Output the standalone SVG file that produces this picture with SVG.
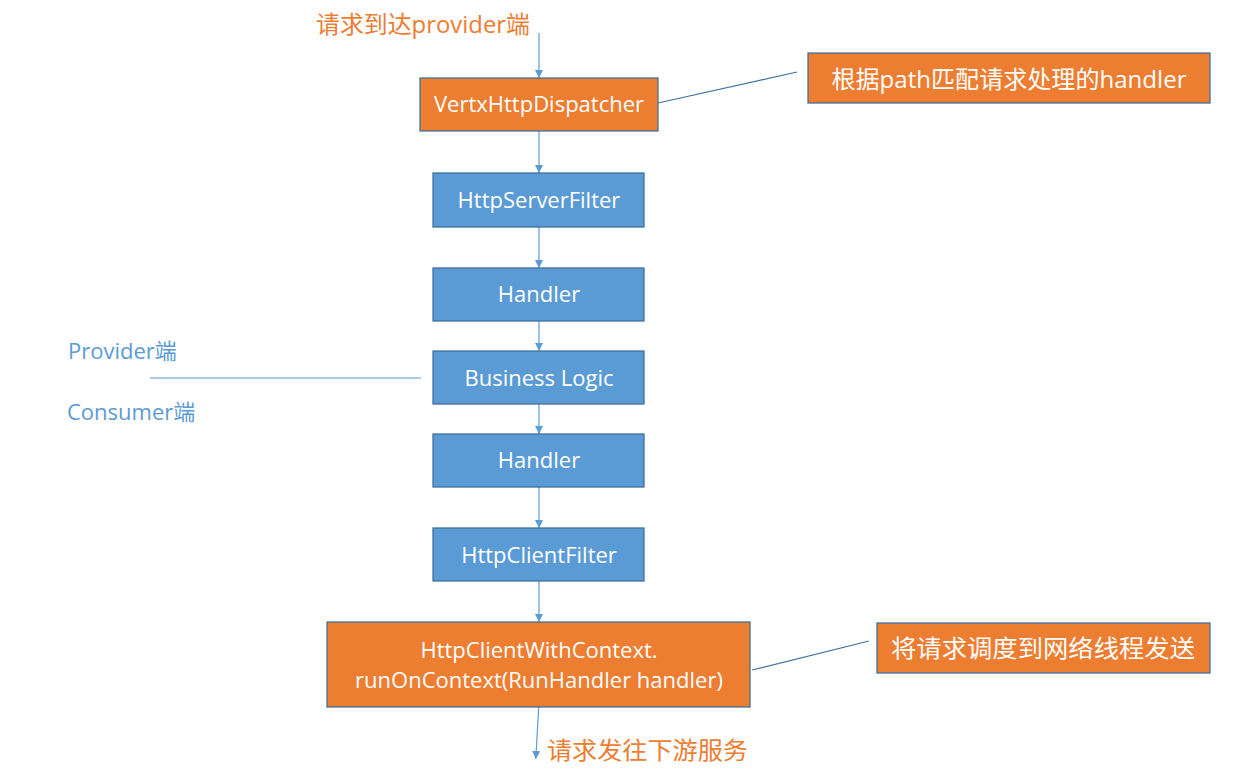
<svg xmlns="http://www.w3.org/2000/svg" width="1256" height="775" viewBox="0 0 1256 775">
<defs>
<style>
.orange{fill:#ED7D31;stroke:#41719C;stroke-width:1.3}
.blue{fill:#5B9BD5;stroke:#41719C;stroke-width:1.3}
.lbl{font-family:"Open Sans","Noto Sans CJK SC",sans-serif;font-size:22px;fill:#FFFFFF;text-anchor:middle}
.cjk{font-family:"Open Sans","Noto Sans CJK SC",sans-serif;font-size:24px}
.side{font-family:"Open Sans","Noto Sans CJK SC",sans-serif;font-size:22px;fill:#5B9BD5}
.conn{stroke:#5B9BD5;stroke-width:1.2;fill:none}
.call{stroke:#41719C;stroke-width:1.2;fill:none}
</style>
<marker id="arr" markerUnits="userSpaceOnUse" markerWidth="9" markerHeight="9" refX="8" refY="4" orient="auto" viewBox="0 0 9 9">
<path d="M0,0 L8,4 L0,8 z" fill="#5B9BD5"/>
</marker>
</defs>
<rect width="1256" height="775" fill="#FFFFFF"/>

<text class="cjk" x="316" y="33" fill="#ED7D31" textLength="214" lengthAdjust="spacingAndGlyphs">请求到达provider端</text>

<g id="connectors">
<line class="conn" x1="539" y1="33" x2="539" y2="78" marker-end="url(#arr)"/>
<line class="conn" x1="539" y1="131" x2="539" y2="173" marker-end="url(#arr)"/>
<line class="conn" x1="539" y1="227" x2="539" y2="268" marker-end="url(#arr)"/>
<line class="conn" x1="539" y1="321" x2="539" y2="351" marker-end="url(#arr)"/>
<line class="conn" x1="539" y1="404" x2="539" y2="434" marker-end="url(#arr)"/>
<line class="conn" x1="539" y1="487" x2="539" y2="528" marker-end="url(#arr)"/>
<line class="conn" x1="539" y1="581" x2="539" y2="622" marker-end="url(#arr)"/>
<line class="conn" x1="538.7" y1="707" x2="535.8" y2="759" marker-end="url(#arr)"/>
<line class="call" x1="658" y1="103" x2="797" y2="72"/>
<line class="call" x1="752" y1="670" x2="869" y2="641"/>
<line class="conn" x1="150" y1="378" x2="421" y2="378"/>
</g>

<g id="dispatcher">
<rect class="orange" x="420" y="78" width="238" height="53"/>
<text class="lbl" x="539" y="112">VertxHttpDispatcher</text>
</g>
<g id="callout1">
<rect class="orange" x="808" y="53" width="402" height="50"/>
<text class="cjk" x="831.5" y="88" fill="#FFFFFF" textLength="355" lengthAdjust="spacingAndGlyphs">根据path匹配请求处理的handler</text>
</g>
<g id="serverFilter">
<rect class="blue" x="433" y="173" width="211" height="54"/>
<text class="lbl" x="539" y="208" font-size="21.5">HttpServerFilter</text>
</g>
<g id="handler1">
<rect class="blue" x="433" y="268" width="211" height="53"/>
<text class="lbl" x="539" y="302">Handler</text>
</g>
<g id="business">
<rect class="blue" x="433" y="351" width="211" height="53"/>
<text class="lbl" x="539" y="386">Business Logic</text>
</g>
<g id="handler2">
<rect class="blue" x="433" y="434" width="211" height="53"/>
<text class="lbl" x="539" y="468">Handler</text>
</g>
<g id="clientFilter">
<rect class="blue" x="433" y="528" width="211" height="53"/>
<text class="lbl" x="539" y="563">HttpClientFilter</text>
</g>
<g id="clientContext">
<rect class="orange" x="327" y="622" width="423" height="85"/>
<text class="lbl" x="539" y="658">HttpClientWithContext.</text>
<text class="lbl" x="539" y="688">runOnContext(RunHandler handler)</text>
</g>
<g id="callout2">
<rect class="orange" x="877" y="623" width="333" height="50"/>
<text class="cjk" x="891" y="657" fill="#FFFFFF" font-size="26" textLength="304" lengthAdjust="spacingAndGlyphs">将请求调度到网络线程发送</text>
</g>

<g id="sideLabels">
<text class="side" x="68" y="359">Provider端</text>
<text class="side" x="67" y="420">Consumer端</text>
</g>

<text class="cjk" x="547" y="759" fill="#ED7D31" textLength="201" lengthAdjust="spacingAndGlyphs">请求发往下游服务</text>
</svg>
